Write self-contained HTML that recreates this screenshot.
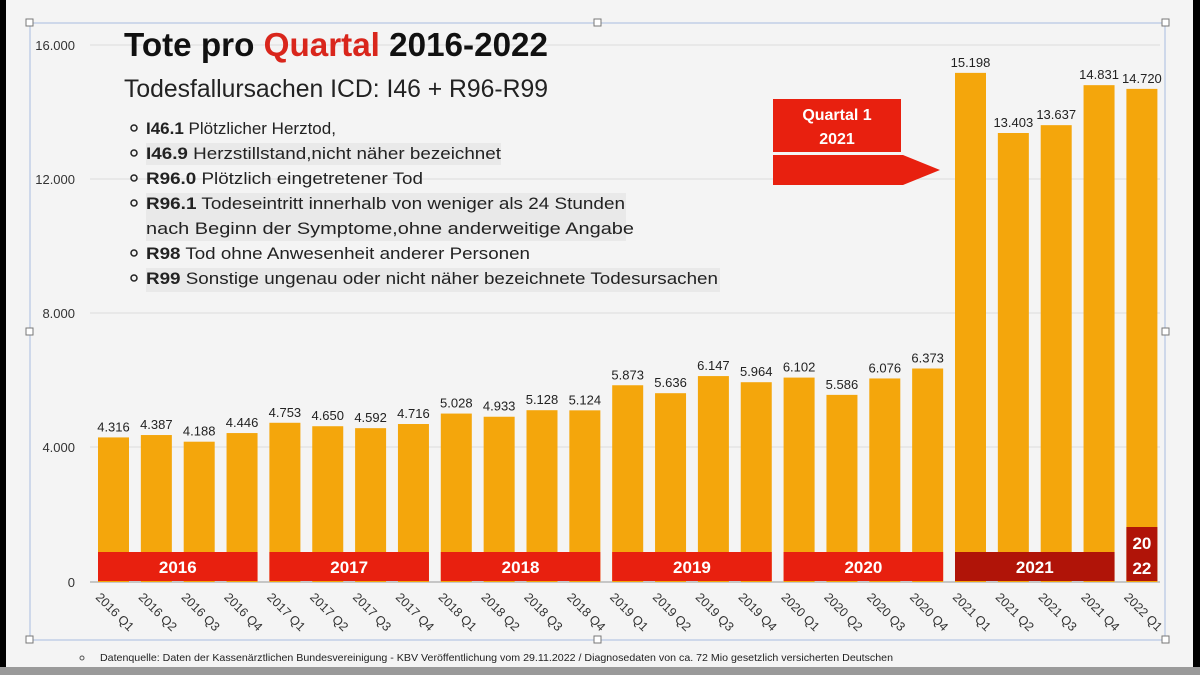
<!DOCTYPE html>
<html><head><meta charset="utf-8"><style>
html,body{margin:0;padding:0;background:#f4f4f4;}
svg{display:block;font-family:"Liberation Sans",Arial,sans-serif;}
</style></head><body>
<svg width="1200" height="675" viewBox="0 0 1200 675" xmlns="http://www.w3.org/2000/svg">
<rect x="0" y="0" width="1200" height="675" fill="#f4f4f4"/>
<rect x="0" y="0" width="6" height="675" fill="#000"/>
<rect x="1193" y="0" width="7" height="675" fill="#000"/>
<rect x="0" y="667" width="1200" height="8" fill="#9a9a9a"/>
<rect x="30" y="23" width="1135" height="617" fill="none" stroke="#a9bde0" stroke-width="1"/>
<g fill="#fff" stroke="#777" stroke-width="1">
<rect x="26" y="19" width="7" height="7"/><rect x="594" y="19" width="7" height="7"/><rect x="1162" y="19" width="7" height="7"/>
<rect x="26" y="328" width="7" height="7"/><rect x="1162" y="328" width="7" height="7"/>
<rect x="26" y="636" width="7" height="7"/><rect x="594" y="636" width="7" height="7"/><rect x="1162" y="636" width="7" height="7"/>
</g>
<g stroke="#dcdcdc" stroke-width="1">
<line x1="90" y1="45" x2="1160" y2="45"/><line x1="90" y1="179" x2="1160" y2="179"/>
<line x1="90" y1="313" x2="1160" y2="313"/><line x1="90" y1="447" x2="1160" y2="447"/>
</g>
<line x1="90" y1="582" x2="1160" y2="582" stroke="#999" stroke-width="1"/>
<g font-size="13" fill="#333" text-anchor="end">
<text x="75" y="50">16.000</text><text x="75" y="184">12.000</text><text x="75" y="318">8.000</text><text x="75" y="452">4.000</text><text x="75" y="587">0</text>
</g>
<g id="bars"></g>
<rect x="773" y="99" width="128" height="53" fill="#e8200f"/>
<text x="837" y="120" font-size="16" font-weight="bold" fill="#fff" text-anchor="middle">Quartal 1</text>
<text x="837" y="144" font-size="16" font-weight="bold" fill="#fff" text-anchor="middle">2021</text>
<polygon points="773,155 903,155 940,170 903,185 773,185" fill="#e8200f"/>
<text x="124" y="56" font-size="33" font-weight="bold" fill="#111" textLength="424" lengthAdjust="spacingAndGlyphs">Tote pro <tspan fill="#d9261c">Quartal</tspan> 2016-2022</text>
<text x="124" y="97" font-size="25" fill="#222" textLength="424" lengthAdjust="spacingAndGlyphs">Todesfallursachen ICD: I46 + R96-R99</text>
<g fill="#e9e9e9">
<rect x="146" y="143" width="355" height="22"/>
<rect x="146" y="193" width="480" height="48"/>
<rect x="146" y="268" width="574" height="24"/>
</g>
<g font-size="17" fill="#222">
<g fill="none" stroke="#222" stroke-width="1.5">
<circle cx="134" cy="128" r="3"/><circle cx="134" cy="153" r="3"/><circle cx="134" cy="178" r="3"/><circle cx="134" cy="203" r="3"/><circle cx="134" cy="253" r="3"/><circle cx="134" cy="278" r="3"/>
</g>
<text x="146" y="134"><tspan font-weight="bold">I46.1</tspan> Plötzlicher Herztod,</text>
<text x="146" y="159" textLength="355" lengthAdjust="spacingAndGlyphs"><tspan font-weight="bold">I46.9</tspan> Herzstillstand,nicht näher bezeichnet</text>
<text x="146" y="184" textLength="277" lengthAdjust="spacingAndGlyphs"><tspan font-weight="bold">R96.0</tspan> Plötzlich eingetretener Tod</text>
<text x="146" y="209" textLength="479" lengthAdjust="spacingAndGlyphs"><tspan font-weight="bold">R96.1</tspan> Todeseintritt innerhalb von weniger als 24 Stunden</text>
<text x="146" y="234" textLength="488" lengthAdjust="spacingAndGlyphs">nach Beginn der Symptome,ohne anderweitige Angabe</text>
<text x="146" y="259" textLength="384" lengthAdjust="spacingAndGlyphs"><tspan font-weight="bold">R98</tspan> Tod ohne Anwesenheit anderer Personen</text>
<text x="146" y="284" textLength="572" lengthAdjust="spacingAndGlyphs"><tspan font-weight="bold">R99</tspan> Sonstige ungenau oder nicht näher bezeichnete Todesursachen</text>
</g>
<circle cx="82" cy="658" r="2" fill="none" stroke="#555"/>
<text x="100" y="661" font-size="10.5" fill="#222" textLength="793" lengthAdjust="spacingAndGlyphs">Datenquelle: Daten der Kassenärztlichen Bundesvereinigung - KBV Veröffentlichung vom 29.11.2022 / Diagnosedaten von ca. 72 Mio gesetzlich versicherten Deutschen</text>
</svg>
<script>
var v=[4316,4387,4188,4446,4753,4650,4592,4716,5028,4933,5128,5124,5873,5636,6147,5964,6102,5586,6076,6373,15198,13403,13637,14831,14720];
var q=[];for(var y=2016;y<=2022;y++)for(var k=1;k<=4;k++)q.push(y+" Q"+k);
var s="";
function fmt(n){var t=String(n);return t.length>3?t.slice(0,t.length-3)+"."+t.slice(-3):t;}
for(var i=0;i<25;i++){var x=98+i*42.85,h=v[i]*0.0335,t=582-h;
s+='<rect x="'+x+'" y="'+t+'" width="31" height="'+h+'" fill="#f4a60c"/>';
s+='<text x="'+(x+15.5)+'" y="'+(t-6)+'" font-size="13" fill="#222" text-anchor="middle">'+fmt(v[i])+'</text>';
s+='<text transform="translate('+(x-3)+',598) rotate(45)" font-size="12.5" fill="#333">'+q[i]+'</text>';}
for(var j=0;j<6;j++){var x0=98+j*4*42.85,w=3*42.85+31,c=j==5?"#b01408":"#e8200f";
s+='<rect x="'+x0+'" y="552" width="'+w+'" height="29" fill="'+c+'"/>';
s+='<text x="'+(x0+w/2)+'" y="573" font-size="17" font-weight="bold" fill="#fff" text-anchor="middle">'+(2016+j)+'</text>';}
var xl=98+24*42.85;
s+='<rect x="'+xl+'" y="527" width="31" height="54" fill="#b01408"/>';
s+='<text x="'+(xl+15.5)+'" y="549" font-size="17" font-weight="bold" fill="#fff" text-anchor="middle">20</text>';
s+='<text x="'+(xl+15.5)+'" y="574" font-size="17" font-weight="bold" fill="#fff" text-anchor="middle">22</text>';
document.getElementById("bars").innerHTML=s;
</script>
</body></html>
